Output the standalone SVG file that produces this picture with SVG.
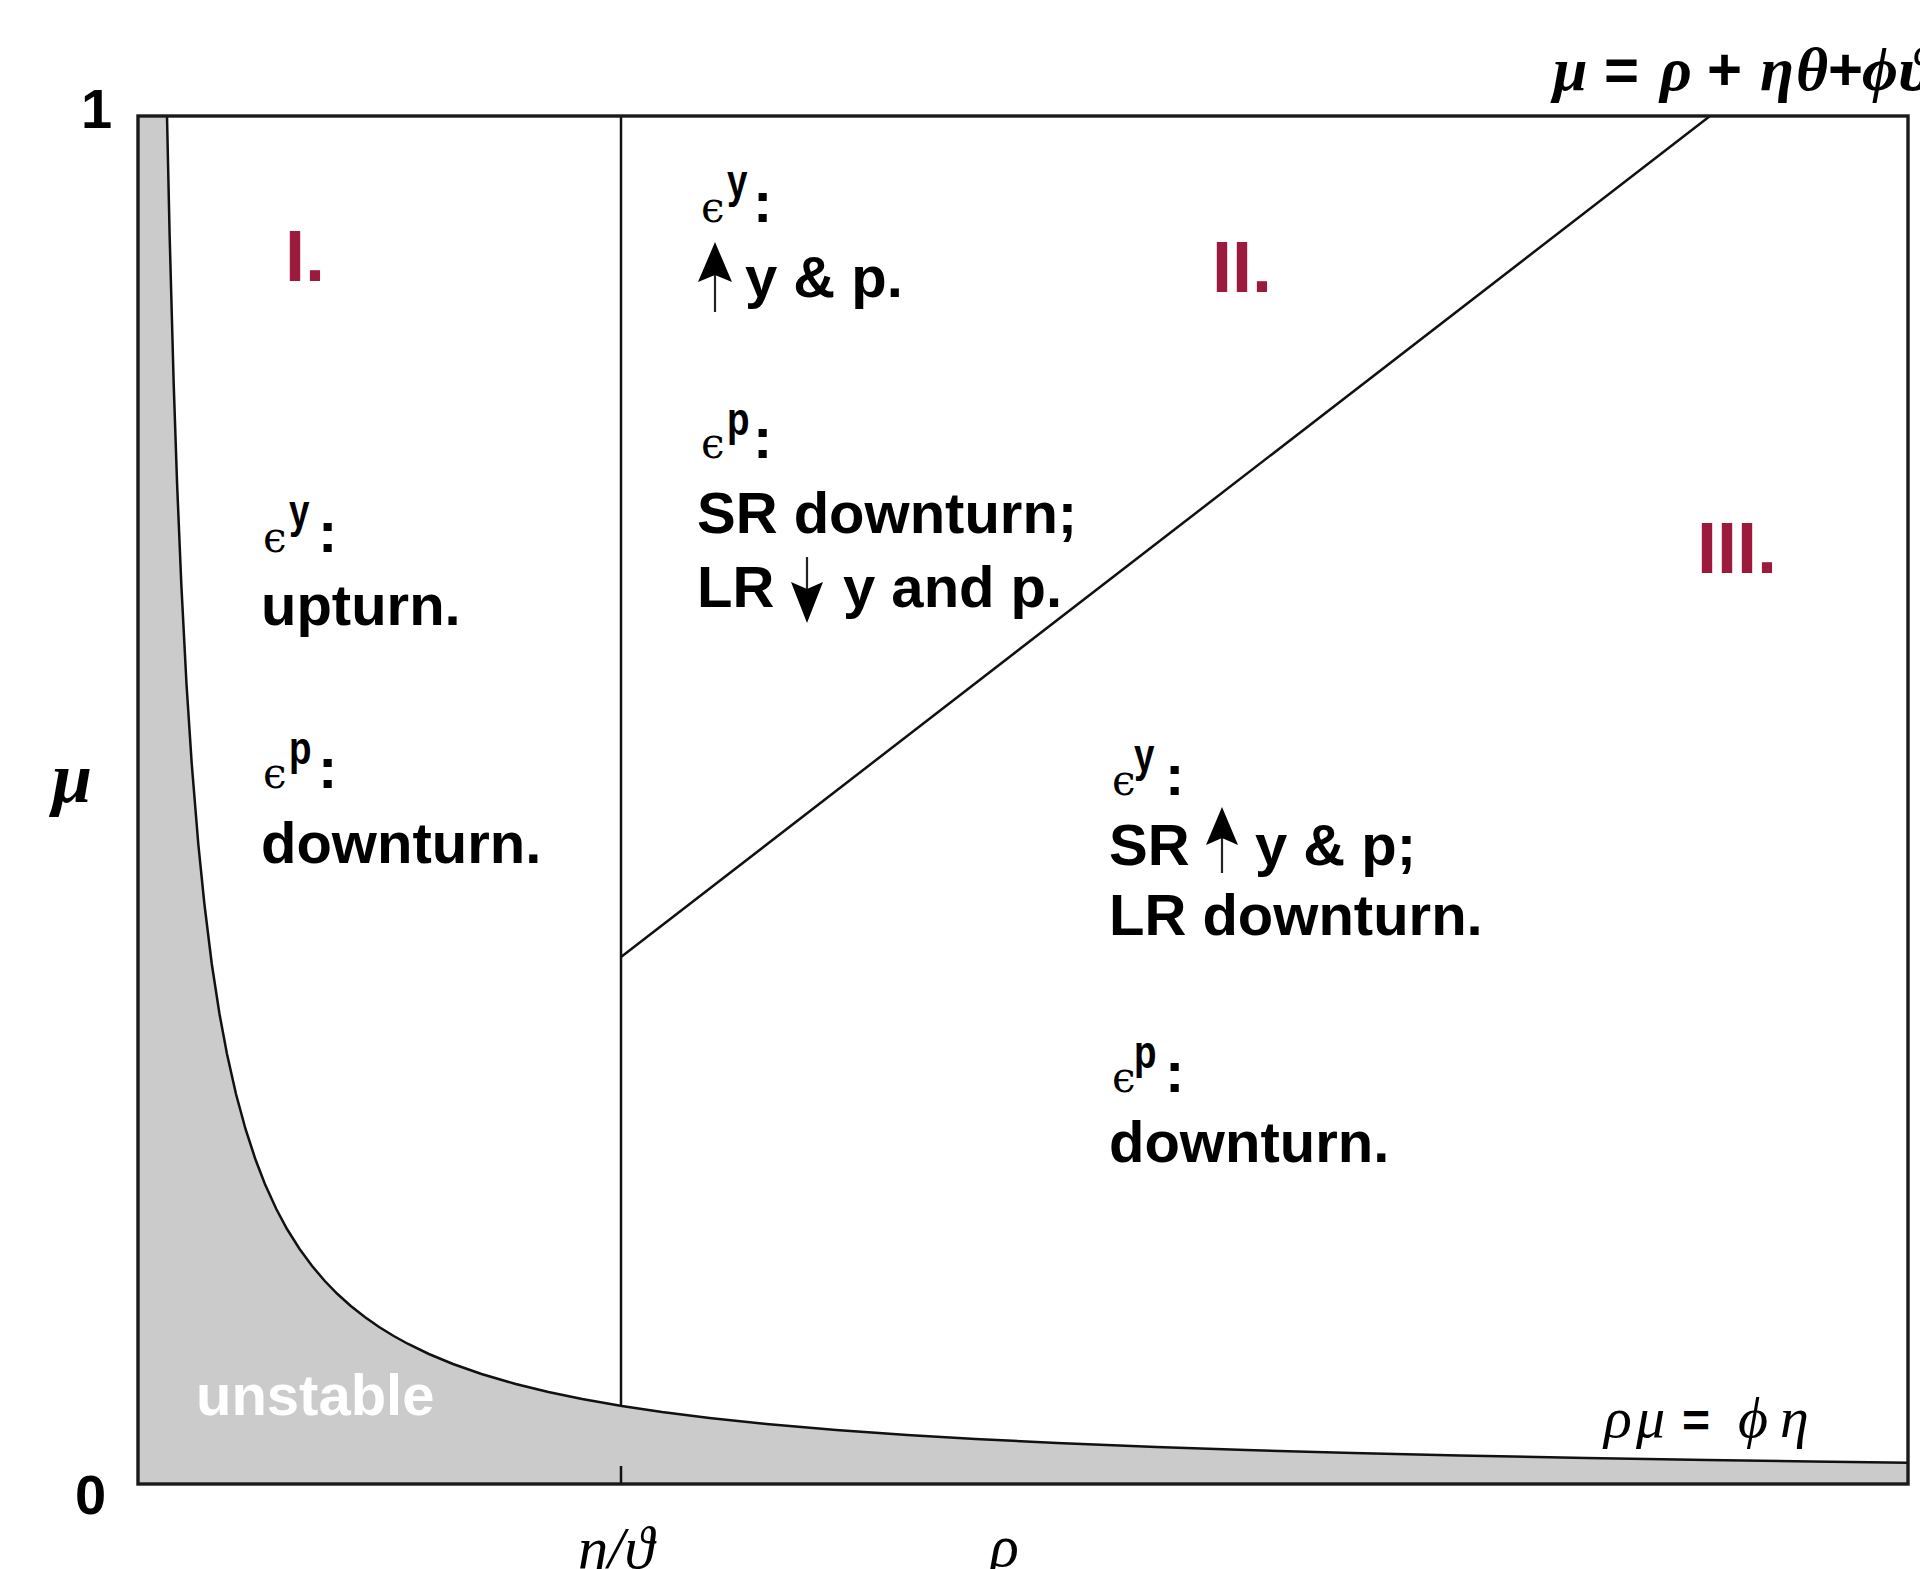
<svg xmlns="http://www.w3.org/2000/svg" width="1920" height="1569" viewBox="0 0 1920 1569">
<style>
.sans{font-family:"Liberation Sans",Arial,sans-serif;font-weight:bold;fill:#000}
.main{font-size:58px}
.sup{font-family:"Liberation Sans",Arial,sans-serif;font-weight:bold;font-size:46px;fill:#000}
.eps{font-family:"DejaVu Serif","Liberation Serif",serif;font-size:42px;fill:#000}
.math{font-family:"Liberation Serif","DejaVu Serif",serif;font-style:italic;fill:#000}
.bm{font-weight:bold}
.roman{font-family:"Liberation Sans",Arial,sans-serif;font-weight:bold;font-size:72px;fill:#9c1a3b}
.ln{fill:none;stroke:#111;stroke-width:2.5}
.shaft{stroke:#222;stroke-width:2.2}
.head{fill:#000}
</style>
<rect width="1920" height="1569" fill="#fff"/>

<g id="unstable-region">
<path fill="#cbcbcb" d="M138,116 L167,116 L169.6,234 L173.7,384 L177.1,484 L181.3,584 L186.5,684 L191.75,764 L198.3,844 L204.4,904 L211.8,964 L219.5,1014 L227,1054 L236,1094 L245.5,1129 L255.3,1159 L264.9,1184 L276.3,1209 L287,1229 L299.6,1249 L312.1,1266 L324.8,1281 L337.5,1294 L350.8,1306 L364.8,1317 L379.1,1327 L393.7,1336 L408.2,1344 L428.9,1354 L453,1364 L481.5,1374 L515.7,1384 L548.4,1392 L582.1,1399 L621.8,1406 L662,1412 L709.5,1418 L766.5,1424 L836.2,1430 L907.3,1435 L975.5,1439 L1057.1,1443 L1156.3,1447 L1246,1450 L1353,1453 L1459.5,1455.5 L1586.4,1458 L1707,1460 L1811.5,1461.5 L1908,1462.7 L1908,1484 L138,1484 Z"/>
<text class="sans" x="196" y="1415" font-size="58" style="fill:#fff">unstable</text>
</g>

<g id="connectors">
<polyline class="ln" stroke-width="3" points="167,116 169.6,234 173.7,384 177.1,484 181.3,584 186.5,684 191.75,764 198.3,844 204.4,904 211.8,964 219.5,1014 227,1054 236,1094 245.5,1129 255.3,1159 264.9,1184 276.3,1209 287,1229 299.6,1249 312.1,1266 324.8,1281 337.5,1294 350.8,1306 364.8,1317 379.1,1327 393.7,1336 408.2,1344 428.9,1354 453,1364 481.5,1374 515.7,1384 548.4,1392 582.1,1399 621.8,1406 662,1412 709.5,1418 766.5,1424 836.2,1430 907.3,1435 975.5,1439 1057.1,1443 1156.3,1447 1246,1450 1353,1453 1459.5,1455.5 1586.4,1458 1707,1460 1811.5,1461.5 1908,1462.7"/>
<line class="ln" x1="621" y1="116" x2="621" y2="1406"/>
<line class="ln" x1="621" y1="1466" x2="621" y2="1484"/>
<line class="ln" x1="621" y1="957" x2="1710" y2="116"/>
<rect x="138" y="116" width="1770" height="1368" fill="none" stroke="#1a1a1a" stroke-width="3.4"/>
</g>

<g id="axis-labels">
<text class="sans" x="81" y="128" font-size="56">1</text>
<text class="sans" x="75" y="1514" font-size="56">0</text>
<text class="math bm" x="52" y="802" font-size="72">μ</text>
<text class="math" x="578" y="1568" font-size="60">η/ϑ</text>
<text class="math" x="990" y="1566" font-size="60">ρ</text>
</g>

<g id="curve-labels">
<text class="math bm" y="90" font-size="62"><tspan x="1553">μ</tspan><tspan x="1604" class="sans" style="font-style:normal" font-size="60">=</tspan><tspan x="1660">ρ</tspan><tspan x="1707" class="sans" style="font-style:normal" font-size="60">+</tspan><tspan x="1760">η</tspan><tspan x="1796">θ</tspan><tspan x="1828" class="sans" style="font-style:normal" font-size="60">+</tspan><tspan x="1862">ϕ</tspan><tspan x="1900">ϑ</tspan></text>
<text class="math" y="1437" font-size="58"><tspan x="1604">ρ</tspan><tspan x="1636">μ</tspan><tspan x="1682" class="sans" style="font-style:normal" font-size="48">=</tspan><tspan x="1738">ϕ</tspan><tspan x="1780">η</tspan></text>
</g>

<g id="region-I">
<text class="roman" x="285" y="281">I.</text>
<text class="eps" x="263" y="552">ϵ</text>
<text class="sup" transform="translate(289,527) scale(0.8,1)">y</text>
<text class="sans main" x="318" y="552">:</text>
<text class="sans main" x="261" y="625">upturn.</text>
<text class="eps" x="263" y="788">ϵ</text>
<text class="sup" transform="translate(289,764) scale(0.8,1)">p</text>
<text class="sans main" x="318" y="788">:</text>
<text class="sans main" x="261" y="863">downturn.</text>
</g>

<g id="region-II">
<text class="roman" x="1212" y="292">II.</text>
<text class="eps" x="701" y="222">ϵ</text>
<text class="sup" transform="translate(727,197) scale(0.8,1)">y</text>
<text class="sans main" x="753" y="222">:</text>
<line class="shaft" x1="715" y1="312" x2="715" y2="272"/>
<path class="head" d="M715,242 L732,282 L715,275 L698,282 Z"/>
<text class="sans main" x="745" y="297">y &amp; p.</text>
<text class="eps" x="701" y="458">ϵ</text>
<text class="sup" transform="translate(727,435) scale(0.8,1)">p</text>
<text class="sans main" x="753" y="458">:</text>
<text class="sans main" x="697" y="533">SR downturn;</text>
<text class="sans main" x="697" y="607">LR</text>
<line class="shaft" x1="807" y1="557" x2="807" y2="590"/>
<path class="head" d="M807,623 L823,582 L807,589 L791,582 Z"/>
<text class="sans main" x="843" y="607">y and p.</text>
</g>

<g id="region-III">
<text class="roman" x="1697" y="573">III.</text>
<text class="eps" x="1112" y="795">ϵ</text>
<text class="sup" transform="translate(1134,771) scale(0.8,1)">y</text>
<text class="sans main" x="1165" y="795">:</text>
<text class="sans main" x="1109" y="865">SR</text>
<line class="shaft" x1="1222" y1="873" x2="1222" y2="835"/>
<path class="head" d="M1222,807 L1238,845 L1222,838 L1206,845 Z"/>
<text class="sans main" x="1255" y="865">y &amp; p;</text>
<text class="sans main" x="1109" y="935">LR downturn.</text>
<text class="eps" x="1112" y="1092">ϵ</text>
<text class="sup" transform="translate(1134,1068) scale(0.8,1)">p</text>
<text class="sans main" x="1165" y="1092">:</text>
<text class="sans main" x="1109" y="1162">downturn.</text>
</g>
</svg>
